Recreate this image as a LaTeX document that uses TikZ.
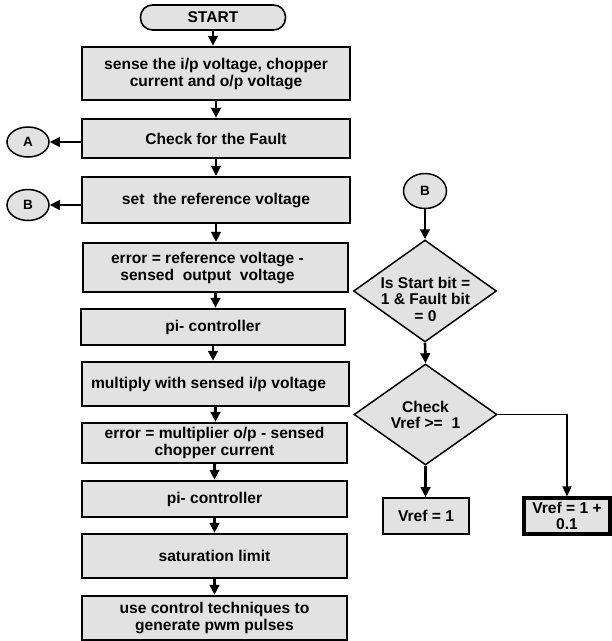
\documentclass[tikz,border=0pt]{standalone}
\usepackage{fontspec}
\setmainfont{Liberation Sans}
\usetikzlibrary{shapes.geometric,arrows.meta}
\definecolor{boxfill}{HTML}{E2E2E2}
\tikzset{
  box/.style={draw=black, line width=2.4pt, fill=boxfill, inner sep=0pt, align=center,
    font=\fontsize{15.6}{17}\selectfont\bfseries},
  term/.style={draw=black, line width=1.6pt, fill=boxfill, rounded corners=12pt, inner sep=0pt,
    font=\fontsize{15.6}{17}\selectfont\bfseries},
  conn/.style={draw=black, line width=1.5pt, fill=boxfill, ellipse, inner sep=0pt,
    font=\fontsize{13.5}{15}\selectfont\bfseries},
  dia/.style={draw=black, line width=1.5pt, fill=boxfill, diamond, inner sep=0pt,
    minimum width=143pt, minimum height=102pt},
  diatext/.style={align=center, inner sep=0pt, font=\fontsize{15.6}{16.5}\selectfont\bfseries},
  arr/.style={line width=2.6pt, -{Triangle[length=10pt,width=9.5pt]}},
  thinarr/.style={line width=1.5pt, -{Triangle[length=10pt,width=9pt]}}
}
\begin{document}
\begin{tikzpicture}[x=1pt,y=-1pt]
\useasboundingbox (0,0) rectangle (612,641);
% main column
\node[term, minimum width=145pt, minimum height=25pt] (start) at (213,17.5) {START};
\node[box, minimum width=268pt, minimum height=53pt] (b1) at (216,73.5) {sense the i/p voltage, chopper\\current and o/p voltage};
\node[box, minimum width=268pt, minimum height=39pt] (b2) at (216,138.5) {Check for the Fault};
\node[box, minimum width=268pt, minimum height=46pt] (b3) at (216,200) {set\ \ the reference voltage};
\node[box, minimum width=265pt, minimum height=49pt] (b4) at (215.5,267.5) {error = reference voltage -\hspace*{16pt}\\sensed\ \ output\ \ voltage\hspace*{16pt}};
\node[box, minimum width=264pt, minimum height=36pt] (b5) at (213,327) {pi- controller};
\node[box, minimum width=267pt, minimum height=44pt] (b6) at (215.5,384) {multiply with sensed i/p voltage\hspace*{14pt}};
\node[box, minimum width=265pt, minimum height=40pt] (b7) at (214.5,443) {error = multiplier o/p - sensed\\chopper current};
\node[box, minimum width=265pt, minimum height=36pt] (b8) at (214.5,499) {pi- controller};
\node[box, minimum width=265pt, minimum height=44pt] (b9) at (214.5,556) {saturation limit};
\node[box, minimum width=265pt, minimum height=44pt] (b10) at (214.5,618) {use control techniques to\\generate pwm pulses};
% connectors left
\node[conn, minimum width=42pt, minimum height=30pt] (A) at (28,142) {A};
\node[conn, minimum width=42pt, minimum height=31pt] (B) at (28,205) {B};
% right branch
\node[conn, minimum width=43pt, minimum height=35pt] (B2) at (425,191) {B};
\node[dia] (d1) at (425,291) {};
\node[diatext] (t1) at (425.5,299) {Is Start bit =\\1 \& Fault bit\\= 0};
\node[dia, minimum height=101pt] (d2) at (425.5,414.5) {};
\node[diatext] (t2) at (425.5,415) {Check\\Vref >=\ \ 1};
\node[box, line width=1.8pt, minimum width=86pt, minimum height=36pt] (v1) at (426,516) {Vref = 1};
\node[box, line width=3.2pt, minimum width=86pt, minimum height=36pt, font=\fontsize{15.6}{16}\selectfont\bfseries] (v2) at (567,516) {Vref = 1 +\\0.1};
% arrows main column
\draw[arr] (start.south) -- (start.south |- b1.north);
\draw[arr] (b1.south) -- (b1.south |- b2.north);
\draw[arr] (b2.south) -- (b2.south |- b3.north);
\draw[arr] (b3.south) -- (b3.south |- b4.north);
\draw[arr] (b4.south) -- (b4.south |- b5.north);
\draw[arr] (b5.south) -- (b5.south |- b6.north);
\draw[arr] (b6.south) -- (b6.south |- b7.north);
\draw[arr] (b7.south) -- (b7.south |- b8.north);
\draw[arr] (b8.south) -- (b8.south |- b9.north);
\draw[arr] (b9.south) -- (b9.south |- b10.north);
\draw[arr] (A.east -| b2.west) -- (A.east);
\draw[arr] (B.east -| b3.west) -- (B.east);
% arrows right branch
\draw[arr] (B2.south) -- (d1.north);
\draw[arr] (d1.south) -- (d2.north);
\draw[arr] (d2.south) -- (d2.south |- v1.north);
\draw[thinarr] (d2.east) -| (v2.north);
\end{tikzpicture}
\end{document}
